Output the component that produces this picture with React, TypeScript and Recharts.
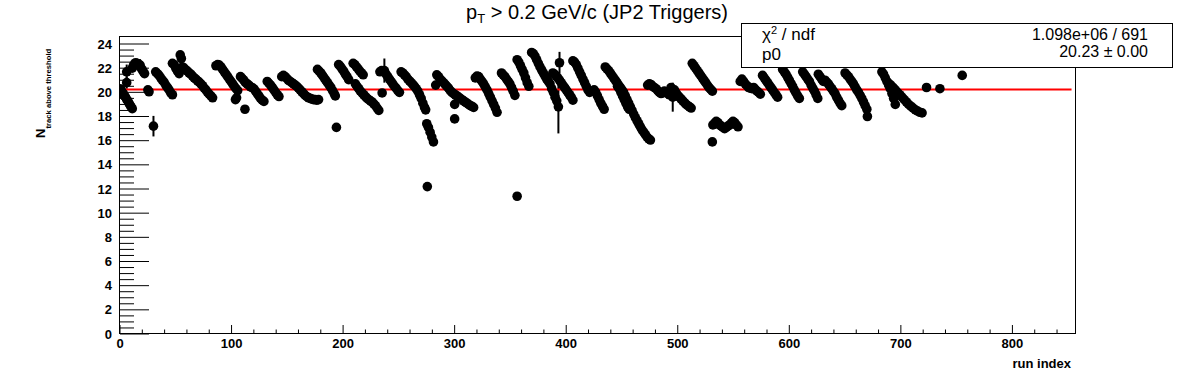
import { ScatterChart, Scatter, XAxis, YAxis, ReferenceLine, ErrorBar } from 'recharts'

// run index / N_track above threshold (runs 0-200)
const runIndexA = [
  0, 1, 2, 3, 4, 5, 6, 7, 8, 9, 10, 11,
  11, 12, 13, 14, 15, 16, 17, 19, 20, 21, 22,
  25, 26,
  32, 33.5, 35, 36.5, 38, 39.5, 41, 42.5, 44, 45.5, 47,
  47, 48.5, 50, 51.5, 53, 54, 55,
  56, 57.5, 59, 60.5, 62, 63.5, 65, 66.5, 68, 69.5, 71, 72.5, 74, 75.5, 77, 78.5, 80, 81.5, 83,
  86, 87.5, 90.5, 92, 93.5, 95, 96.5, 98, 99.5, 101, 102.5, 104, 105.5, 103.5, 104.5, 112,
  108, 109.5, 111, 112.5, 114, 115.5, 117, 118.5, 120, 121.5, 123, 124.5, 126, 127.5, 129,
  132, 133.5, 135, 136.5, 138, 139.5, 141, 142.5,
  145, 146.5, 148, 149.5, 151, 152.5, 154, 155.5, 157, 158.5, 160, 161.5, 163, 164.5, 166, 167.5,
  169, 170.5, 172, 173.5, 175, 176.5, 178,
  177, 178.5, 180, 181.5, 183, 184.5, 186, 187.5, 189, 190.5, 192, 193, 194,
  196, 197.5, 199,
]
const nTrackA = [
  20.3, 20.2, 20.0, 19.9, 19.7, 19.6, 19.4, 19.3, 19.1, 18.95, 18.8, 18.65,
  22.0, 22.2, 22.35, 22.45, 22.4, 22.35, 22.3, 22.0, 21.85, 21.7, 21.55,
  20.2, 20.05,
  21.7, 21.55, 21.4, 21.2, 21.0, 20.85, 20.6, 20.4, 20.2, 19.95, 19.8,
  22.4, 22.3, 22.0, 21.75, 21.55, 23.1, 22.8,
  22.1, 22.0, 21.85, 21.75, 21.6, 21.5, 21.35, 21.2, 21.1, 20.95, 20.85, 20.7, 20.55, 20.35, 20.2, 20.0, 19.85, 19.7, 19.55,
  22.2, 22.3, 22.1, 21.9, 21.7, 21.5, 21.3, 21.1, 20.9, 20.7, 20.5, 20.3, 20.15, 19.4, 19.55, 18.6,
  21.3, 21.15, 21.0, 20.8, 20.7, 20.6, 20.45, 20.4, 20.3, 20.1, 19.9, 19.7, 19.5, 19.35, 19.25,
  20.9, 20.75, 20.6, 20.4, 20.2, 20.0, 19.8, 19.65,
  21.3, 21.4, 21.3, 21.15, 21.0, 20.9, 20.8, 20.7, 20.6, 20.5, 20.35, 20.2, 20.05, 19.9, 19.75, 19.65,
  19.55, 19.5, 19.45, 19.4, 19.4, 19.35, 19.4,
  21.9, 21.75, 21.6, 21.4, 21.2, 21.0, 20.8, 20.6, 20.4, 20.15, 19.9, 19.7, 17.1,
  22.3, 22.15, 21.95,
]

// runs 200-400
const runIndexB = [
  200.5, 202, 203.5, 205,
  209, 210.5, 212, 213.5, 215, 216.5, 218,
  211, 212.5, 214, 215.5, 217, 218.5, 220, 221.5, 223, 224.5, 226, 227.5, 229, 230.5, 232,
  233, 234.5, 235, 238.5, 240, 241.5, 243, 244.5, 246, 247.5, 249, 250.5,
  252, 253.5, 255, 256.5, 258, 259.5, 261, 262.5, 264, 265.5, 267, 268.5, 270, 271.5, 273, 274,
  275, 276.5, 278, 279.5, 281, 275.5,
  283, 284, 285.5, 287, 288.5, 290, 291.5, 293, 294.5, 300, 300,
  296, 297.5, 299, 300.5, 302, 303.5, 305, 306.5, 308, 309.5, 311, 312.5, 314, 315.5, 317,
  318.5, 320, 321.5, 323, 324.5, 326, 327.5, 329, 330.5, 332, 333.5, 335, 336.5, 338,
  342, 343.5, 345, 346.5, 348, 349.5, 351, 352.5, 354,
  356, 357.5, 359, 360.5, 362, 363.5, 365, 366.5, 356,
  369, 370.5, 372, 373.5, 375, 376.5, 378, 379.5, 381, 382.5, 384, 385.5, 387, 388.5, 390, 391.5,
  388, 389.5, 391, 392.5, 394, 395.5, 397, 398.5,
]
const nTrackB = [
  21.75, 21.5, 21.3, 21.05,
  22.4, 22.3, 22.1, 21.95, 21.75, 21.6, 21.45,
  20.7, 20.5, 20.3, 20.1, 19.95, 19.8, 19.65, 19.5, 19.4, 19.3, 19.2, 19.05, 18.9, 18.7, 18.5,
  21.7, 21.8, 19.95, 21.5, 21.3, 21.1, 20.9, 20.7, 20.5, 20.35, 20.15, 20.0,
  21.7, 21.6, 21.45, 21.3, 21.1, 20.95, 20.8, 20.65, 20.5, 20.3, 20.1, 19.8, 19.5, 19.1, 18.75, 18.55,
  17.4, 17.1, 16.7, 16.3, 15.9, 12.2,
  20.6, 21.45, 21.3, 21.1, 20.95, 20.8, 20.65, 20.5, 20.35, 19.0, 17.8,
  20.15, 20.0, 19.9, 19.8, 19.7, 19.6, 19.5, 19.4, 19.3, 19.2, 19.1, 19.0, 18.9, 18.85, 18.75,
  21.2, 21.35, 21.3, 21.1, 20.9, 20.7, 20.45, 20.2, 19.9, 19.6, 19.3, 19.0, 18.7, 18.35,
  21.6, 21.45, 21.3, 21.1, 20.9, 20.7, 20.4, 20.1, 19.75,
  22.7, 22.5, 22.2, 21.9, 21.6, 21.2, 20.8, 20.5, 11.4,
  23.3, 23.2, 23.0, 22.7, 22.4, 22.1, 21.85, 21.6, 21.35, 21.1, 20.9, 20.7, 20.3, 20.0, 19.6, 19.3,
  21.6, 21.5, 21.35, 21.2, 21.0, 20.8, 20.6, 20.4,
]

// runs 400-760
const runIndexC = [
  400, 401.5, 403, 404.5, 406,
  406, 407.5, 409, 410.5, 412, 413.5, 415, 416.5, 418, 419.5, 421,
  425, 426.5, 428, 429.5, 431, 432.5, 434,
  435, 436.5, 438, 439.5, 441, 442.5, 444, 445.5, 447, 448.5, 450, 451.5, 453, 454.5,
  456, 457.5, 459, 460.5, 462, 463.5, 465, 466.5, 468, 469.5, 471, 472.5, 474, 475.5,
  446, 447.5, 449, 450.5, 452, 453.5, 455, 456.5,
  473, 474.5, 476, 477.5, 479, 480.5, 482, 483.5, 485, 486.5, 488, 489.5, 491, 492.5,
  494, 497, 498.5, 500, 501.5, 503, 504.5, 506, 507.5, 509, 510.5, 512,
  513, 514.5, 516, 517.5, 519, 520.5, 522, 523.5, 525, 526.5, 528, 529.5, 531,
  531, 531.5, 533, 534.5, 536, 537.5, 539, 540.5, 542, 543.5, 545, 546.5, 548, 549.5, 551, 552.5, 554,
  556, 557.5, 559, 560.5, 562, 563.5, 565, 566.5, 568, 569.5, 571, 572.5, 574,
  576, 577.5, 579, 580.5, 582, 583.5, 585, 586.5, 588, 589.5,
  594, 595.5, 597, 598.5, 600, 601.5, 603, 604.5, 606, 607.5, 609,
  612, 613.5, 615, 616.5, 618, 619.5, 621, 622.5, 624, 625.5,
  626, 627.5, 629, 630.5,
  632, 633.5, 635, 636.5, 638, 639.5, 641, 642.5, 644, 645.5, 647,
  650, 651.5, 653, 654.5, 656, 657.5, 659, 660.5, 662, 663.5, 665, 666.5, 668, 669.5, 670,
  683, 684.5, 686, 687.5, 689, 690.5, 692, 693.5, 695,
  689, 691, 693, 695, 697, 699, 701, 703, 705, 707, 709, 711, 713, 715, 717, 719,
  723, 735, 755,
]
const nTrackC = [
  20.2, 20.0, 19.8, 19.6, 19.35,
  22.6, 22.5, 22.3, 22.0, 21.7, 21.4, 21.1, 20.8, 20.5, 20.2, 20.0,
  20.2, 20.0, 19.7, 19.4, 19.1, 18.85, 18.6,
  22.1, 21.95, 21.8, 21.6, 21.4, 21.2, 21.0, 20.8, 20.6, 20.4, 20.2, 20.0, 19.7, 19.4,
  19.1, 18.8, 18.5, 18.2, 17.9, 17.65, 17.4, 17.15, 16.9, 16.7, 16.5, 16.3, 16.15, 16.05,
  20.5, 20.3, 20.0, 19.7, 19.4, 19.1, 18.8, 18.6,
  20.6, 20.7, 20.65, 20.5, 20.4, 20.3, 20.15, 20.0, 19.9, 19.95, 20.1, 20.0, 19.9, 19.8,
  20.4, 20.2, 19.95, 19.75, 19.6, 19.45, 19.3, 19.15, 19.0, 18.9, 18.8, 18.7,
  22.4, 22.2, 22.0, 21.8, 21.6, 21.4, 21.2, 21.0, 20.8, 20.6, 20.4, 20.25, 20.1,
  15.9, 17.3, 17.45, 17.6, 17.5, 17.3, 17.2, 17.1, 17.0, 17.1, 17.2, 17.3, 17.45, 17.6, 17.5, 17.3, 17.15,
  20.9, 21.1, 20.9, 20.7, 20.55, 20.4, 20.35, 20.3, 20.4, 20.25, 20.1, 20.0, 19.85,
  21.4, 21.2, 21.0, 20.8, 20.6, 20.4, 20.2, 20.0, 19.8, 19.6,
  21.9, 21.7, 21.5, 21.25, 21.0, 20.75, 20.5, 20.2, 19.95, 19.7, 19.5,
  21.7, 21.5, 21.3, 21.1, 20.9, 20.6, 20.35, 20.1, 19.8, 19.5,
  21.5, 21.3, 21.1, 20.9,
  21.0, 20.85, 20.7, 20.5, 20.3, 20.1, 19.9, 19.6, 19.35, 19.1, 18.9,
  21.6, 21.45, 21.3, 21.1, 20.9, 20.7, 20.45, 20.2, 20.0, 19.75, 19.5, 19.2, 18.9, 18.6, 18.0,
  21.7, 21.5, 21.2, 20.9, 20.6, 20.3, 19.9, 19.5, 19.0,
  20.75, 20.6, 20.4, 20.2, 20.0, 19.8, 19.6, 19.4, 19.2, 19.0, 18.85, 18.7, 18.55, 18.45, 18.35, 18.3,
  20.4, 20.3, 21.4,
]

// points whose error bars are visible
const errRunIndex = [6, 6, 18, 30, 89, 237, 393, 394, 495.5]
const errNTrack = [21.7, 20.8, 22.25, 17.2, 22.25, 21.8, 18.8, 22.45, 19.6]
const errSize = [0.6, 0.5, 0.5, 0.85, 0.4, 1.0, 2.2, 0.9, 1.2]

const FIT_P0 = 20.23
const X_MAX = 857
const yMajor = [0, 2, 4, 6, 8, 10, 12, 14, 16, 18, 20, 22, 24]
const xMajor = [0, 100, 200, 300, 400, 500, 600, 700, 800]

const yTicks = yMajor.flatMap((v) => (v < 24 ? [v, v + 0.5, v + 1, v + 1.5] : [v]))
const xTicks = xMajor.flatMap((v) => [v, v + 20, v + 40, v + 60, v + 80]).filter((v) => v < X_MAX)

const points = [
  ...runIndexA.map((x, i) => ({ x, y: nTrackA[i] })),
  ...runIndexB.map((x, i) => ({ x, y: nTrackB[i] })),
  ...runIndexC.map((x, i) => ({ x, y: nTrackC[i] })),
]
const errPoints = errRunIndex.map((x, i) => ({ x, y: errNTrack[i], err: errSize[i] }))

const FONT = '"Liberation Sans", Arial, Helvetica, sans-serif'
const W = 1196
const H = 372
const PLOT = { left: 120, top: 37, right: 1076, bottom: 334 }

const dot = (p: any) => <circle cx={p.cx} cy={p.cy} r={4.8} fill="#000" />

const YTick = (props: any) => {
  const { x, y, payload } = props
  const v = payload.value
  const major = v % 2 === 0
  return (
    <g>
      <line x1={x} x2={x + (major ? 29 : 14)} y1={y} y2={y} stroke="#000" />
      {major && (
        <text x={x - 8} y={y + 4.5} textAnchor="end" fontSize={13} fontWeight="bold" fontFamily={FONT} fill="#000">
          {v}
        </text>
      )}
    </g>
  )
}

const XTick = (props: any) => {
  const { x, y, payload } = props
  const v = payload.value
  const major = v % 100 === 0
  return (
    <g>
      <line x1={x} x2={x} y1={y} y2={y - (major ? 9 : 4.5)} stroke="#000" />
      {major && (
        <text x={x} y={y + 14} textAnchor="middle" fontSize={13} fontWeight="bold" fontFamily={FONT} fill="#000">
          {v}
        </text>
      )}
    </g>
  )
}

export default function App() {
  return (
    <div style={{ position: 'absolute', left: 0, top: 0, width: W, height: H, background: '#fff' }}>
      <ScatterChart
        width={W}
        height={H}
        margin={{ top: PLOT.top, right: W - PLOT.right, bottom: 0, left: 0 }}
      >
        <XAxis
          type="number"
          dataKey="x"
          domain={[0, X_MAX]}
          ticks={xTicks}
          interval={0}
          height={H - PLOT.bottom}
          tickSize={0}
          tickMargin={0}
          tickLine={false}
          axisLine={false}
          tick={<XTick />}
          allowDataOverflow
        />
        <YAxis
          type="number"
          dataKey="y"
          domain={[0, 24.58]}
          ticks={yTicks}
          interval={0}
          width={PLOT.left}
          tickSize={0}
          tickMargin={0}
          tickLine={false}
          axisLine={false}
          tick={<YTick />}
          allowDataOverflow
        />
        <Scatter data={points} shape={dot} isAnimationActive={false} />
        <Scatter data={errPoints} shape={dot} isAnimationActive={false}>
          <ErrorBar dataKey="err" direction="y" width={0} stroke="#000" strokeWidth={2} />
        </Scatter>
        <ReferenceLine
          segment={[{ x: 0, y: FIT_P0 }, { x: 853, y: FIT_P0 }]}
          stroke="#ff0000"
          strokeWidth={2}
        />
      </ScatterChart>
      <svg
        width={W}
        height={H}
        style={{ position: 'absolute', left: 0, top: 0, pointerEvents: 'none' }}
        fontFamily={FONT}
      >
        <rect
          x={PLOT.left - 0.5}
          y={PLOT.top - 0.5}
          width={PLOT.right - PLOT.left}
          height={PLOT.bottom - PLOT.top}
          fill="none"
          stroke="#000"
        />
        <text x={597} y={19} textAnchor="middle" fontSize={20} fill="#000">
          p<tspan dy={4} fontSize={13}>T</tspan>
          <tspan dy={-4}> &gt; 0.2 GeV/c (JP2 Triggers)</tspan>
        </text>
        <text transform="translate(45,138) rotate(-90)" fontWeight="bold" fill="#000">
          <tspan fontSize={13}>N</tspan>
          <tspan dy={6} fontSize={7.7}>track above threshold</tspan>
        </text>
        <text x={1071} y={368} textAnchor="end" fontSize={13} fontWeight="bold" fill="#000">
          run index
        </text>
        <rect x={741.5} y={23.5} width={431} height={44} fill="#fff" stroke="#000" />
        <text x={762} y={40} fontSize={17} fill="#000">
          χ<tspan dy={-6} fontSize={11}>2</tspan>
          <tspan dy={6}> / ndf</tspan>
        </text>
        <text x={1148} y={40} textAnchor="end" fontSize={16} fill="#000">
          1.098e+06 / 691
        </text>
        <text x={762} y={60} fontSize={17} fill="#000">
          p0
        </text>
        <text x={1148} y={57} textAnchor="end" fontSize={16} fill="#000">
          20.23 ± 0.00
        </text>
      </svg>
    </div>
  )
}
